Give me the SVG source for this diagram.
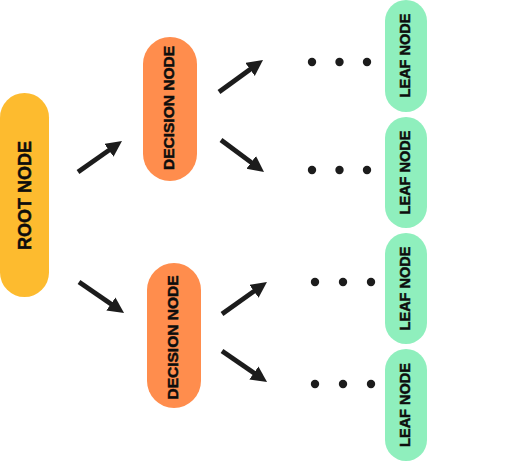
<svg xmlns="http://www.w3.org/2000/svg" width="505" height="462" viewBox="0 0 505 462">
<defs>
<style>
.lbl{font-family:"Liberation Sans",Arial,sans-serif;font-weight:bold;fill:#0d0d0d;stroke:#0d0d0d;stroke-width:0.5;text-anchor:middle}
.root{fill:#FDBB2F}
.dec{fill:#FF8D4D}
.leaf{fill:#8FEFBD}
.conn line{stroke:#1c1c1c;stroke-width:4.8;stroke-linecap:butt;marker-end:url(#ah)}
.dot{fill:#1c1c1c}
</style>
<marker id="ah" markerUnits="userSpaceOnUse" markerWidth="18" markerHeight="18" refX="5" refY="8" orient="auto">
<path d="M0,0 L16,8 L0,16 z" fill="#1c1c1c"/>
</marker>
</defs>
<rect width="505" height="462" fill="#fff"/>
<g id="connectors" class="conn">
<line x1="78" y1="172" x2="113" y2="147.4"/>
<line x1="79" y1="282" x2="115" y2="306.8"/>
<line x1="219" y1="92" x2="254.1" y2="66.5"/>
<line x1="221" y1="140" x2="255.2" y2="165.4"/>
<line x1="222" y1="314" x2="258" y2="288.4"/>
<line x1="222" y1="351" x2="258" y2="375.8"/>
</g>
<g id="dots">
<circle class="dot" cx="312" cy="62" r="4.2"/><circle class="dot" cx="339.5" cy="62" r="4.2"/><circle class="dot" cx="367" cy="62" r="4.2"/>
<circle class="dot" cx="312" cy="170" r="4.2"/><circle class="dot" cx="339.5" cy="170" r="4.2"/><circle class="dot" cx="367" cy="170" r="4.2"/>
<circle class="dot" cx="315" cy="282" r="4.2"/><circle class="dot" cx="343" cy="282" r="4.2"/><circle class="dot" cx="371" cy="282" r="4.2"/>
<circle class="dot" cx="315" cy="384" r="4.2"/><circle class="dot" cx="343" cy="384" r="4.2"/><circle class="dot" cx="371" cy="384" r="4.2"/>
</g>
<g id="root-node">
<rect class="root" x="0" y="93" width="49" height="204" rx="24.5"/>
<text class="lbl" font-size="18" transform="translate(25,195.5) rotate(-90)" x="0" y="6.4">ROOT NODE</text>
</g>
<g id="decision-node-1">
<rect class="dec" x="143" y="37" width="54" height="144" rx="27"/>
<text class="lbl" font-size="15.5" transform="translate(168.5,108) rotate(-90)" x="0" y="5.5">DECISION NODE</text>
</g>
<g id="decision-node-2">
<rect class="dec" x="147" y="263" width="54" height="145" rx="27"/>
<text class="lbl" font-size="15.5" transform="translate(172,337.5) rotate(-90)" x="0" y="5.5">DECISION NODE</text>
</g>
<g id="leaf-node-1">
<rect class="leaf" x="385" y="0" width="42" height="112" rx="21"/>
<text class="lbl" font-size="14.5" transform="translate(405,55.5) rotate(-90)" x="0" y="5.2">LEAF NODE</text>
</g>
<g id="leaf-node-2">
<rect class="leaf" x="385" y="117" width="42" height="111" rx="21"/>
<text class="lbl" font-size="14.5" transform="translate(405,172.5) rotate(-90)" x="0" y="5.2">LEAF NODE</text>
</g>
<g id="leaf-node-3">
<rect class="leaf" x="385" y="233" width="42" height="111" rx="21"/>
<text class="lbl" font-size="14.5" transform="translate(405,288.5) rotate(-90)" x="0" y="5.2">LEAF NODE</text>
</g>
<g id="leaf-node-4">
<rect class="leaf" x="385" y="349" width="42" height="112" rx="21"/>
<text class="lbl" font-size="14.5" transform="translate(405,405) rotate(-90)" x="0" y="5.2">LEAF NODE</text>
</g>
</svg>
